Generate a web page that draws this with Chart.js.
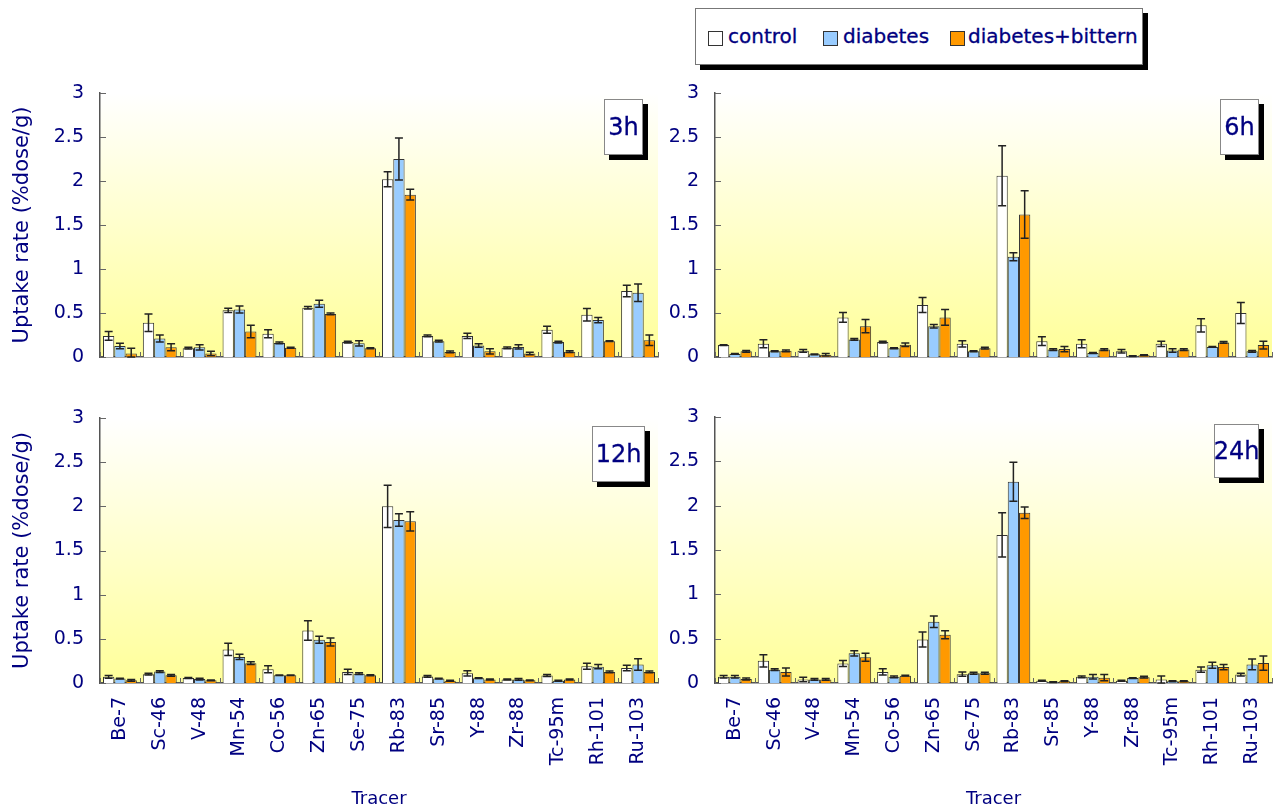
<!DOCTYPE html>
<html>
<head>
<meta charset="utf-8">
<script src="https://cdn.jsdelivr.net/npm/chart.js@4.4.0/dist/chart.umd.min.js"></script>
<style>
  body { margin: 0; width: 1277px; height: 812px; position: relative; overflow: hidden; background: #fff; font-family: 'DejaVu Sans', sans-serif; }
  canvas { position: absolute; }
  .tag { position: absolute; box-sizing: border-box; background: #fff; border: 1px solid #888; box-shadow: 5px 5px 0 #000;
         color: #000080; font-size: 24px; display: flex; align-items: center; justify-content: center; -webkit-text-stroke: 0.3px #000080; }
  #legend { position: absolute; left: 695px; top: 8px; width: 448px; height: 57px; box-sizing: border-box; background: #fff;
            border: 1px solid #777; box-shadow: 5px 5px 0 #000; color: #000080; font-size: 20px; -webkit-text-stroke: 0.3px #000080; }
  #legend .sw { position: absolute; top: 22px; width: 13px; height: 13px; border: 1px solid #333; }
  #legend .tx { position: absolute; top: 15px; line-height: 24px; }
</style>
</head>
<body>
<canvas id="c3" width="665" height="290" style="left:0;top:80px"></canvas>
<canvas id="c6" width="617" height="290" style="left:660px;top:80px"></canvas>
<canvas id="c12" width="665" height="407" style="left:0;top:405px"></canvas>
<canvas id="c24" width="617" height="407" style="left:660px;top:405px"></canvas>

<div class="tag" style="left:604px;top:99px;width:39px;height:56px">3h</div>
<div class="tag" style="left:1220px;top:99px;width:39px;height:56px">6h</div>
<div class="tag" style="left:592px;top:426px;width:53px;height:56px">12h</div>
<div class="tag" style="left:1214px;top:424px;width:45px;height:54px">24h</div>

<div id="legend">
  <span class="sw" style="left:12px;background:#ffffff"></span><span class="tx" style="left:32px">control</span>
  <span class="sw" style="left:127px;background:#99ccff"></span><span class="tx" style="left:147px">diabetes</span>
  <span class="sw" style="left:254px;background:#ff9900"></span><span class="tx" style="left:272px">diabetes+bittern</span>
</div>

<script>
// ---- data ----
const tracers = ['Be-7', 'Sc-46', 'V-48', 'Mn-54', 'Co-56', 'Zn-65', 'Se-75', 'Rb-83', 'Sr-85', 'Y-88', 'Zr-88', 'Tc-95m', 'Rh-101', 'Ru-103'];
const yTicks = [0, 0.5, 1, 1.5, 2, 2.5, 3];
const seriesNames = ['control', 'diabetes', 'diabetes+bittern'];

// 3h
const h3Control     = [0.24, 0.39, 0.10, 0.53, 0.265, 0.56, 0.17, 2.02, 0.24, 0.24, 0.105, 0.31, 0.48, 0.75];
const h3ControlErr  = [0.05, 0.10, 0.01, 0.025, 0.045, 0.015, 0.01, 0.085, 0.01, 0.03, 0.01, 0.04, 0.07, 0.065];
const h3Diabetes    = [0.125, 0.21, 0.11, 0.54, 0.16, 0.605, 0.155, 2.25, 0.18, 0.13, 0.115, 0.17, 0.42, 0.73];
const h3DiabetesErr = [0.03, 0.04, 0.03, 0.04, 0.01, 0.04, 0.03, 0.24, 0.01, 0.02, 0.025, 0.01, 0.03, 0.10];
const h3Bittern     = [0.04, 0.11, 0.04, 0.29, 0.105, 0.49, 0.10, 1.845, 0.057, 0.065, 0.04, 0.06, 0.18, 0.19];
const h3BitternErr  = [0.06, 0.04, 0.025, 0.07, 0.005, 0.01, 0.005, 0.06, 0.01, 0.03, 0.015, 0.01, 0.005, 0.06];

// 6h
const h6Control     = [0.135, 0.15, 0.07, 0.45, 0.17, 0.59, 0.15, 2.06, 0.18, 0.15, 0.065, 0.15, 0.36, 0.50];
const h6ControlErr  = [0.005, 0.045, 0.015, 0.055, 0.01, 0.085, 0.035, 0.34, 0.05, 0.045, 0.02, 0.03, 0.075, 0.12];
const h6Diabetes    = [0.035, 0.065, 0.03, 0.20, 0.10, 0.35, 0.065, 1.14, 0.085, 0.045, 0.01, 0.075, 0.115, 0.065];
const h6DiabetesErr = [0.005, 0.005, 0.005, 0.01, 0.005, 0.02, 0.005, 0.045, 0.01, 0.005, 0.003, 0.02, 0.005, 0.01];
const h6Bittern     = [0.065, 0.07, 0.025, 0.35, 0.14, 0.45, 0.10, 1.62, 0.09, 0.085, 0.02, 0.085, 0.165, 0.135];
const h6BitternErr  = [0.01, 0.01, 0.015, 0.075, 0.02, 0.09, 0.01, 0.27, 0.03, 0.01, 0.005, 0.01, 0.01, 0.045];

// 12h
const h12Control     = [0.07, 0.10, 0.057, 0.38, 0.155, 0.595, 0.125, 2.0, 0.075, 0.11, 0.04, 0.085, 0.19, 0.17];
const h12ControlErr  = [0.015, 0.01, 0.005, 0.07, 0.04, 0.11, 0.03, 0.24, 0.01, 0.03, 0.005, 0.01, 0.035, 0.03];
const h12Diabetes    = [0.05, 0.13, 0.045, 0.295, 0.087, 0.49, 0.105, 1.845, 0.05, 0.055, 0.04, 0.025, 0.185, 0.21];
const h12DiabetesErr = [0.005, 0.01, 0.01, 0.03, 0.003, 0.04, 0.01, 0.07, 0.005, 0.005, 0.01, 0.005, 0.025, 0.065];
const h12Bittern     = [0.03, 0.087, 0.03, 0.225, 0.087, 0.465, 0.087, 1.83, 0.025, 0.04, 0.03, 0.04, 0.125, 0.125];
const h12BitternErr  = [0.01, 0.01, 0.005, 0.015, 0.003, 0.045, 0.005, 0.11, 0.005, 0.005, 0.005, 0.005, 0.01, 0.01];

// 24h
const h24Control     = [0.07, 0.25, 0.04, 0.22, 0.125, 0.49, 0.10, 1.67, 0.025, 0.07, 0.025, 0.04, 0.15, 0.095];
const h24ControlErr  = [0.015, 0.07, 0.025, 0.035, 0.035, 0.085, 0.025, 0.25, 0.005, 0.01, 0.005, 0.04, 0.03, 0.015];
const h24Diabetes    = [0.07, 0.15, 0.04, 0.335, 0.07, 0.69, 0.11, 2.27, 0.01, 0.07, 0.055, 0.02, 0.20, 0.21];
const h24DiabetesErr = [0.015, 0.01, 0.01, 0.03, 0.01, 0.065, 0.01, 0.22, 0.003, 0.025, 0.005, 0.005, 0.035, 0.06];
const h24Bittern     = [0.045, 0.125, 0.04, 0.29, 0.083, 0.545, 0.11, 1.92, 0.02, 0.06, 0.065, 0.02, 0.18, 0.225];
const h24BitternErr  = [0.01, 0.045, 0.01, 0.045, 0.005, 0.045, 0.01, 0.065, 0.005, 0.035, 0.01, 0.005, 0.03, 0.08];

const NAVY = '#000080';
const FONT = "'DejaVu Sans', sans-serif";
const BAR_COLORS = ['#ffffff', '#99ccff', '#ff9900'];

// plot background: white -> pale yellow
const bgPlugin = {
    id: 'plotBg',
    beforeDraw(chart) {
        const { ctx, chartArea: a } = chart;
        const g = ctx.createLinearGradient(0, a.top, 0, a.bottom);
        g.addColorStop(0, '#ffffff');
        g.addColorStop(1, '#ffff99');
        ctx.save();
        ctx.fillStyle = g;
        ctx.fillRect(a.left, a.top, a.right - a.left, a.bottom - a.top);
        ctx.restore();
    }
};

// tick marks pointing into the plot
const innerTicks = {
    id: 'innerTicks',
    beforeDatasetsDraw(chart) {
        const { ctx, chartArea: a, scales: { x, y } } = chart;
        ctx.save();
        ctx.strokeStyle = '#666';
        ctx.lineWidth = 1;
        ctx.beginPath();
        y.ticks.forEach(t => {
            const py = Math.round(y.getPixelForValue(t.value)) + 0.5;
            ctx.moveTo(a.left, py);
            ctx.lineTo(a.left + 6, py);
        });
        for (let i = 0; i <= tracers.length; i++) {
            const px = Math.round(x.getPixelForValue(i - 0.5)) + 0.5;
            ctx.moveTo(px, a.bottom);
            ctx.lineTo(px, a.bottom - 5);
        }
        ctx.stroke();
        ctx.restore();
    }
};

// symmetric error bars with caps
const errorBars = {
    id: 'errorBars',
    afterDatasetsDraw(chart, args, opts) {
        const { ctx, scales: { y } } = chart;
        ctx.save();
        ctx.strokeStyle = '#222';
        ctx.lineWidth = 1.5;
        chart.data.datasets.forEach((ds, i) => {
            const meta = chart.getDatasetMeta(i);
            const errs = opts.errors[i];
            meta.data.forEach((bar, j) => {
                const v = ds.data[j], e = errs[j];
                const top = y.getPixelForValue(v + e);
                const bot = y.getPixelForValue(Math.max(0, v - e));
                ctx.beginPath();
                ctx.moveTo(bar.x, top); ctx.lineTo(bar.x, bot);
                ctx.moveTo(bar.x - 4, top); ctx.lineTo(bar.x + 4, top);
                ctx.moveTo(bar.x - 4, bot); ctx.lineTo(bar.x + 4, bot);
                ctx.stroke();
            });
        });
        ctx.restore();
    }
};

function makePanel(id, values, errors, layout) {
    const ctx = document.getElementById(id).getContext('2d');
    return new Chart(ctx, {
        type: 'bar',
        data: {
            labels: tracers,
            datasets: values.map((d, i) => ({
                label: seriesNames[i],
                data: d,
                backgroundColor: BAR_COLORS[i],
                borderColor: '#333',
                borderWidth: 1,
                barPercentage: 1,
                categoryPercentage: 0.85
            }))
        },
        options: {
            responsive: false,
            animation: false,
            layout: { padding: { top: layout.padTop, right: layout.padRight, left: 0, bottom: 0 } },
            plugins: {
                legend: { display: false },
                tooltip: { enabled: false },
                errorBars: { errors }
            },
            scales: {
                x: {
                    offset: true,
                    grid: { display: false, drawTicks: false },
                    border: { display: true, color: '#555', width: 1.5 },
                    ticks: {
                        display: layout.xLabels,
                        color: NAVY,
                        font: { family: FONT, size: 19 },
                        minRotation: 90, maxRotation: 90,
                        autoSkip: false,
                        padding: 14
                    },
                    title: {
                        display: layout.xLabels,
                        text: 'Tracer',
                        color: NAVY,
                        font: { family: FONT, size: 18 },
                        padding: { top: 0, bottom: 2 }
                    },
                    afterFit: s => { s.height = layout.xH; s.paddingLeft = 0; s.paddingRight = 0; }
                },
                y: {
                    min: 0, max: 3,
                    afterBuildTicks: s => { s.ticks = yTicks.map(v => ({ value: v })); },
                    grid: { display: false, drawTicks: false },
                    border: { display: true, color: '#555', width: 1.5 },
                    ticks: { color: NAVY, font: { family: FONT, size: 19 }, padding: 16, callback: v => String(v) },
                    title: {
                        display: layout.yTitle,
                        text: 'Uptake rate (%dose/g)',
                        color: NAVY,
                        font: { family: FONT, size: 21 },
                        padding: { top: 10, bottom: 0 }
                    },
                    afterFit: s => { s.width = layout.yW; s.paddingTop = 0; s.paddingBottom = 0; }
                }
            }
        },
        plugins: [bgPlugin, innerTicks, errorBars]
    });
}

makePanel('c3',
    [h3Control, h3Diabetes, h3Bittern],
    [h3ControlErr, h3DiabetesErr, h3BitternErr],
    { padTop: 13, padRight: 7, yW: 100, xH: 13, xLabels: false, yTitle: true });

makePanel('c6',
    [h6Control, h6Diabetes, h6Bittern],
    [h6ControlErr, h6DiabetesErr, h6BitternErr],
    { padTop: 13, padRight: 5, yW: 55, xH: 13, xLabels: false, yTitle: false });

makePanel('c12',
    [h12Control, h12Diabetes, h12Bittern],
    [h12ControlErr, h12DiabetesErr, h12BitternErr],
    { padTop: 13, padRight: 7, yW: 100, xH: 129, xLabels: true, yTitle: true });

makePanel('c24',
    [h24Control, h24Diabetes, h24Bittern],
    [h24ControlErr, h24DiabetesErr, h24BitternErr],
    { padTop: 12, padRight: 5, yW: 55, xH: 129, xLabels: true, yTitle: false });
</script>
</body>
</html>
